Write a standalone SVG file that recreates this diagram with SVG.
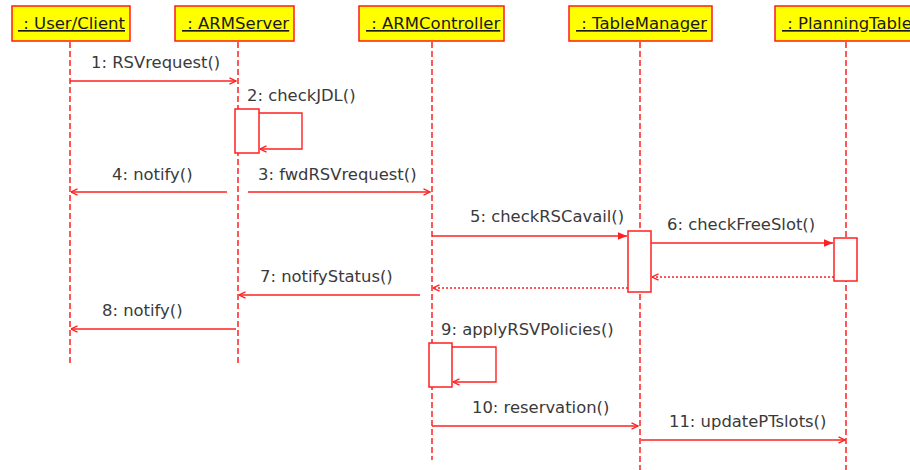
<svg xmlns="http://www.w3.org/2000/svg" width="910" height="470" viewBox="0 0 910 470">
  <style>
    .head { fill: #ffff00; stroke: #ff1a1a; stroke-width: 1.5; }
    .headtxt { font-family: "DejaVu Sans", sans-serif; font-size: 16.5px; fill: #1a1a1a; text-decoration: underline; white-space: pre; }
    .life { stroke: #ff2020; stroke-width: 1.5; stroke-dasharray: 6 3; fill: none; }
    .act { fill: #ffffff; stroke: #ff2020; stroke-width: 1.5; }
    .msg { stroke: #ff2020; stroke-width: 1.4; fill: none; }
    .ret { stroke: #ff2020; stroke-width: 1.4; fill: none; stroke-dasharray: 2 2; }
    .lbl { font-family: "DejaVu Sans", sans-serif; font-size: 16.4px; fill: #3a3a3a; }
  </style>
  <defs>
    <marker id="open" markerUnits="userSpaceOnUse" viewBox="0 0 8 8" refX="7.5" refY="4" markerWidth="8" markerHeight="8" orient="auto">
      <path d="M1,0.8 L7.5,4 L1,7.2" fill="none" stroke="#ff2020" stroke-width="1.3"/>
    </marker>
    <marker id="solid" markerUnits="userSpaceOnUse" viewBox="0 0 10 10" refX="9.5" refY="5" markerWidth="10" markerHeight="10" orient="auto">
      <path d="M0,1 L9.5,5 L0,9 z" fill="#ff2020"/>
    </marker>
  </defs>

  <!-- participants -->
  <g id="user-client">
    <line class="life" x1="70" y1="42" x2="70" y2="364"/>
    <rect class="head" x="12" y="6" width="118" height="35"/>
    <text class="headtxt" x="18" y="29"> : User/Client</text>
  </g>
  <g id="arm-server">
    <line class="life" x1="238" y1="42" x2="238" y2="364"/>
    <rect class="head" x="175" y="6" width="119" height="35"/>
    <text class="headtxt" x="182" y="29"> : ARMServer</text>
  </g>
  <g id="arm-controller">
    <line class="life" x1="432" y1="42" x2="432" y2="460"/>
    <rect class="head" x="359" y="6" width="145" height="35"/>
    <text class="headtxt" x="366" y="29"> : ARMController</text>
  </g>
  <g id="table-manager">
    <line class="life" x1="640" y1="42" x2="640" y2="470"/>
    <rect class="head" x="569" y="6" width="143" height="35"/>
    <text class="headtxt" x="576" y="29"> : TableManager</text>
  </g>
  <g id="planning-table">
    <line class="life" x1="846" y1="42" x2="846" y2="470"/>
    <rect class="head" x="775" y="6" width="142" height="35"/>
    <text class="headtxt" x="782" y="29"> : PlanningTable</text>
  </g>

  <!-- activation bars -->
  <g id="activations">
    <rect class="act" x="235" y="109" width="24" height="44"/>
    <rect class="act" x="628" y="231" width="23" height="61"/>
    <rect class="act" x="834" y="238" width="23" height="43"/>
    <rect class="act" x="429" y="343" width="23" height="44"/>
  </g>

  <!-- messages -->
  <g id="connectors">
    <line class="msg" x1="70" y1="81" x2="236" y2="81" marker-end="url(#open)"/>
    <polyline class="msg" points="259,113 302,113 302,149 260,149" marker-end="url(#open)"/>
    <line class="msg" x1="227" y1="192" x2="71" y2="192" marker-end="url(#open)"/>
    <line class="msg" x1="248" y1="192" x2="430" y2="192" marker-end="url(#open)"/>
    <line class="msg" x1="432" y1="236" x2="627" y2="236" marker-end="url(#solid)"/>
    <line class="msg" x1="651" y1="243" x2="833" y2="243" marker-end="url(#solid)"/>
    <line class="ret" x1="834" y1="277" x2="652" y2="277" marker-end="url(#open)"/>
    <line class="ret" x1="628" y1="288" x2="433" y2="288" marker-end="url(#open)"/>
    <line class="msg" x1="420" y1="295" x2="239" y2="295" marker-end="url(#open)"/>
    <line class="msg" x1="236" y1="329" x2="71" y2="329" marker-end="url(#open)"/>
    <polyline class="msg" points="452,347 496,347 496,382 453,382" marker-end="url(#open)"/>
    <line class="msg" x1="432" y1="426" x2="638" y2="426" marker-end="url(#open)"/>
    <line class="msg" x1="641" y1="440" x2="845" y2="440" marker-end="url(#open)"/>
  </g>

  <!-- message labels -->
  <g id="labels">
    <text class="lbl" x="91" y="68">1: RSVrequest()</text>
    <text class="lbl" x="247" y="101">2: checkJDL()</text>
    <text class="lbl" x="258" y="180">3: fwdRSVrequest()</text>
    <text class="lbl" x="112" y="180">4: notify()</text>
    <text class="lbl" x="470" y="222">5: checkRSCavail()</text>
    <text class="lbl" x="667" y="230">6: checkFreeSlot()</text>
    <text class="lbl" x="260" y="282">7: notifyStatus()</text>
    <text class="lbl" x="102" y="316">8: notify()</text>
    <text class="lbl" x="441" y="335">9: applyRSVPolicies()</text>
    <text class="lbl" x="472" y="413">10: reservation()</text>
    <text class="lbl" x="669" y="427">11: updatePTslots()</text>
  </g>
</svg>
